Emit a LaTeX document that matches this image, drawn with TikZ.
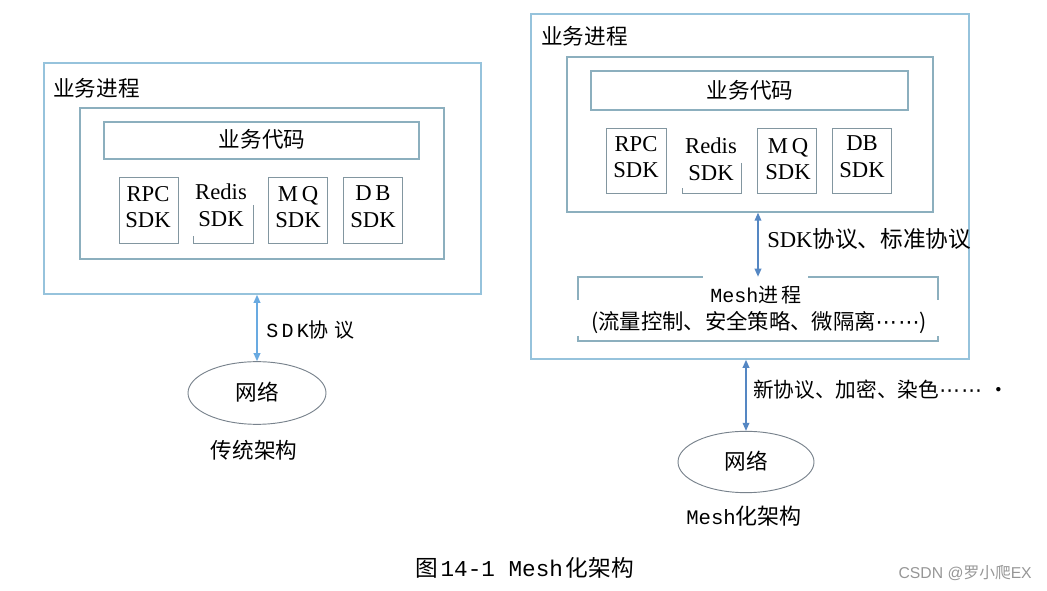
\documentclass[tikz,border=0pt]{standalone}
\usepackage{fontspec}
\setmainfont{Liberation Serif}
\newfontfamily\cjk{Noto Sans CJK SC}
\newfontfamily\mono{Liberation Mono}
\newfontfamily\sans{Liberation Sans}
\newfontfamily\dv{DejaVu Sans}
\newcommand{\mydots}{{\dv ⋯\hspace{1pt}⋯}}
\usetikzlibrary{fit,shapes.geometric,arrows.meta}
\definecolor{outercol}{RGB}{150,195,220}
\definecolor{innercol}{RGB}{140,175,190}
\definecolor{sdkcol}{RGB}{130,150,160}
\definecolor{arrcol}{RGB}{85,135,195}
\definecolor{arrcolL}{RGB}{105,170,225}
\definecolor{ellcol}{RGB}{120,130,140}
\definecolor{wmcol}{RGB}{150,150,150}
\begin{document}
\begin{tikzpicture}[x=0.75pt,y=-0.75pt,
  obox/.style={draw=outercol,line width=1.2pt,inner sep=0pt},
  ibox/.style={draw=innercol,line width=1pt,inner sep=0pt},
  cbox/.style={draw=innercol,line width=0.9pt,inner sep=0pt},
  sdkbox/.style={draw=sdkcol,line width=0.7pt,inner sep=0pt},
  lbl/.style={inner sep=0pt,font=\cjk\fontsize{16.2}{19}\selectfont},
  sdk/.style={inner sep=0pt,align=center,font=\fontsize{17}{20}\selectfont},
  net/.style={ellipse,draw=ellcol,line width=0.7pt,inner sep=0pt},
  arr/.style={{Triangle[length=6pt,width=5pt]}-{Triangle[length=6pt,width=5pt]},draw=arrcol,fill=arrcol,line width=1pt},
  arrL/.style={arr,draw=arrcolL,fill=arrcolL}]
\useasboundingbox (0,0) rectangle (1047,591);
% ---------- left: traditional ----------
\node[obox,fit={(44,63) (481,294)}] (Lout) {};
\node[lbl,anchor=west] (Lproc) at (53,88) {业务进程};
\node[ibox,fit={(80,108) (444,259)}] (Lin) {};
\node[cbox,fit={(104,122) (419,159)}] (Lcode) {};
\node[lbl] (Lcodet) at (262,139) {业务代码};
\node[sdkbox,fit={(119,177) (178,243)}] (Lrpc) {};
\node[sdk] at (148,207) {RPC\\SDK};
\node[inner sep=0pt,fit={(193,177) (253,243)}] (Lredis) {};
\draw[sdkcol,line width=0.7pt] (253,205) -- (253,243) -- (193,243) -- (193,236);
\node[sdk] at (221,205) {Redis\\SDK};
\node[sdkbox,fit={(268,177) (327,243)}] (Lmq) {};
\node[sdk] at (298,207) {M\,Q\\SDK};
\node[sdkbox,fit={(343,177) (402,243)}] (Ldb) {};
\node[sdk] at (373,207) {D\,B\\SDK};
\node[net,minimum width=103.5pt,minimum height=47pt] (Lnet) at (257,393) {};
\node[lbl] at (257,392) {网络};
\draw[arrL] (Lnet.north |- Lout.south) -- (Lnet.north);
\node[inner sep=0pt,anchor=west] (Lproto) at (266,330) {\mono\fontsize{15}{18}\selectfont S\,D\,K\cjk 协\hspace{4pt}议};
\node[lbl] (Ltitle) at (254,450) {传统架构};
% ---------- right: mesh ----------
\node[obox,fit={(531,14) (969,359)}] (Rout) {};
\node[lbl,anchor=west] (Rproc) at (541,36) {业务进程};
\node[ibox,fit={(567,57) (933,212)}] (Rin) {};
\node[cbox,fit={(591,71) (908,110)}] (Rcode) {};
\node[lbl] (Rcodet) at (750,90) {业务代码};
\node[sdkbox,fit={(606,128) (666,193)}] (Rrpc) {};
\node[sdk] at (636,157) {RPC\\SDK};
\node[inner sep=0pt,fit={(682,128) (741,193)}] (Rredis) {};
\draw[sdkcol,line width=0.7pt] (741,163) -- (741,193) -- (682,193) -- (682,188);
\node[sdk] at (711,159) {Redis\\SDK};
\node[sdkbox,fit={(757,128) (816,193)}] (Rmq) {};
\node[sdk] at (788,159) {M\,Q\\SDK};
\node[sdkbox,fit={(832,128) (891,193)}] (Rdb) {};
\node[sdk] at (862,157) {DB\\SDK};
\node[inner sep=0pt,fit={(578,277) (938,341)}] (mesh) {};
\draw[innercol,line width=0.8pt] (578,300) -- (578,277) -- (703,277);
\draw[innercol,line width=0.8pt] (808,277) -- (938,277) -- (938,300);
\draw[innercol,line width=0.8pt] (578,336) -- (578,341) -- (938,341) -- (938,336);
\node[inner sep=0pt] (mesht) at (756,295) {\mono\fontsize{15}{17}\selectfont Mesh\cjk 进\,程};
\node[inner sep=0pt] (meshd) at (759,323) {\cjk\fontsize{16}{18}\selectfont (流量控制、安全策略、微隔离\mydots)};
\draw[arr] (mesh.north) -- (mesh.north |- Rin.south);
\node[inner sep=0pt,anchor=west] (Rproto) at (767,239) {\fontsize{17}{20}\selectfont SDK\cjk 协议、标准协议};
\node[net,minimum width=102pt,minimum height=46pt] (Rnet) at (746,462) {};
\node[lbl] at (746,461) {网络};
\draw[arr] (Rnet.north |- Rout.south) -- (Rnet.north);
\node[inner sep=0pt,anchor=west] (Rproto2) at (753,390) {\cjk\fontsize{15.5}{18}\selectfont 新协议、加密、染色\mydots\hspace{5pt}·};
\node[inner sep=0pt,anchor=west] (Rtitle) at (686,516) {\mono\fontsize{15.5}{18}\selectfont Mesh\cjk\fontsize{16.5}{18}\selectfont 化架构};
% ---------- caption ----------
\node[inner sep=0pt,anchor=west] (cap) at (415,568) {\cjk\fontsize{17}{20}\selectfont 图\hspace{2pt}\mono 14-1 Mesh\hspace{2pt}\cjk 化架构};
\node[inner sep=0pt,anchor=east,text=wmcol] (wm) at (1032,573) {\sans\fontsize{11.8}{13}\selectfont CSDN @\cjk 罗小爬\sans EX};
\end{tikzpicture}
\end{document}
